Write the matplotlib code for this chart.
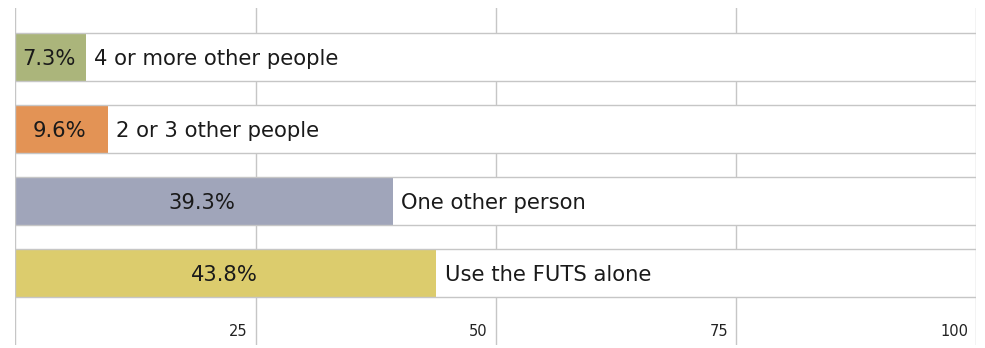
import matplotlib.pyplot as plt
import matplotlib.transforms as mtransforms

# Ergebnisse: wer nutzt das FUTS gemeinsam
categories = ['4 or more other people', '2 or 3 other people', 'One other person', 'Use the FUTS alone']
values = [7.3, 9.6, 39.3, 43.8]
colors = ['#abb57b', '#e39355', '#a0a5ba', '#dccc6d']
ticks = [25, 50, 75, 100]

fig = plt.figure(figsize=(9.85, 3.48), dpi=100)
ax = fig.add_axes([0.0157, 0.0086, 0.9756, 0.9684])

pos = list(range(len(categories)))
h = 0.667

# vertikale Gitterlinien hinter allem
for g in [0] + ticks:
    ax.axvline(g, color='#c6c6c6', lw=1, zorder=0)

# weisser Hintergrundbalken ueber die volle Breite
ax.barh(pos, [100] * len(pos), height=h, color='white', edgecolor='none', zorder=1)
ax.barh(pos, values, height=h, color=colors, edgecolor='none', zorder=2)
ax.barh(pos, [100] * len(pos), height=h, color='none', edgecolor='#c6c6c6', lw=1, zorder=3)

for p, v, c in zip(pos, values, categories):
    ax.text(v / 2 - 0.2, p + 0.03, f'{v:.1f}%', ha='center', va='center', fontsize=15.2, color='#1a1a1a', zorder=4)
    ax.text(v + 0.85, p + 0.03, c, ha='left', va='center', fontsize=15.2, color='#1a1a1a', zorder=4)

trans = mtransforms.blended_transform_factory(ax.transData, ax.transAxes)
for t in ticks:
    ax.text(t - 0.85, 0.018, str(t), transform=trans, ha='right', va='bottom', fontsize=10.5, color='#222222')

ax.set_xlim(0, 100)
ax.set_ylim(4.0, -0.68)
ax.set_xticks([])
ax.set_yticks([])
for s in ax.spines.values():
    s.set_visible(False)

fig.savefig('out.png', dpi=100)
